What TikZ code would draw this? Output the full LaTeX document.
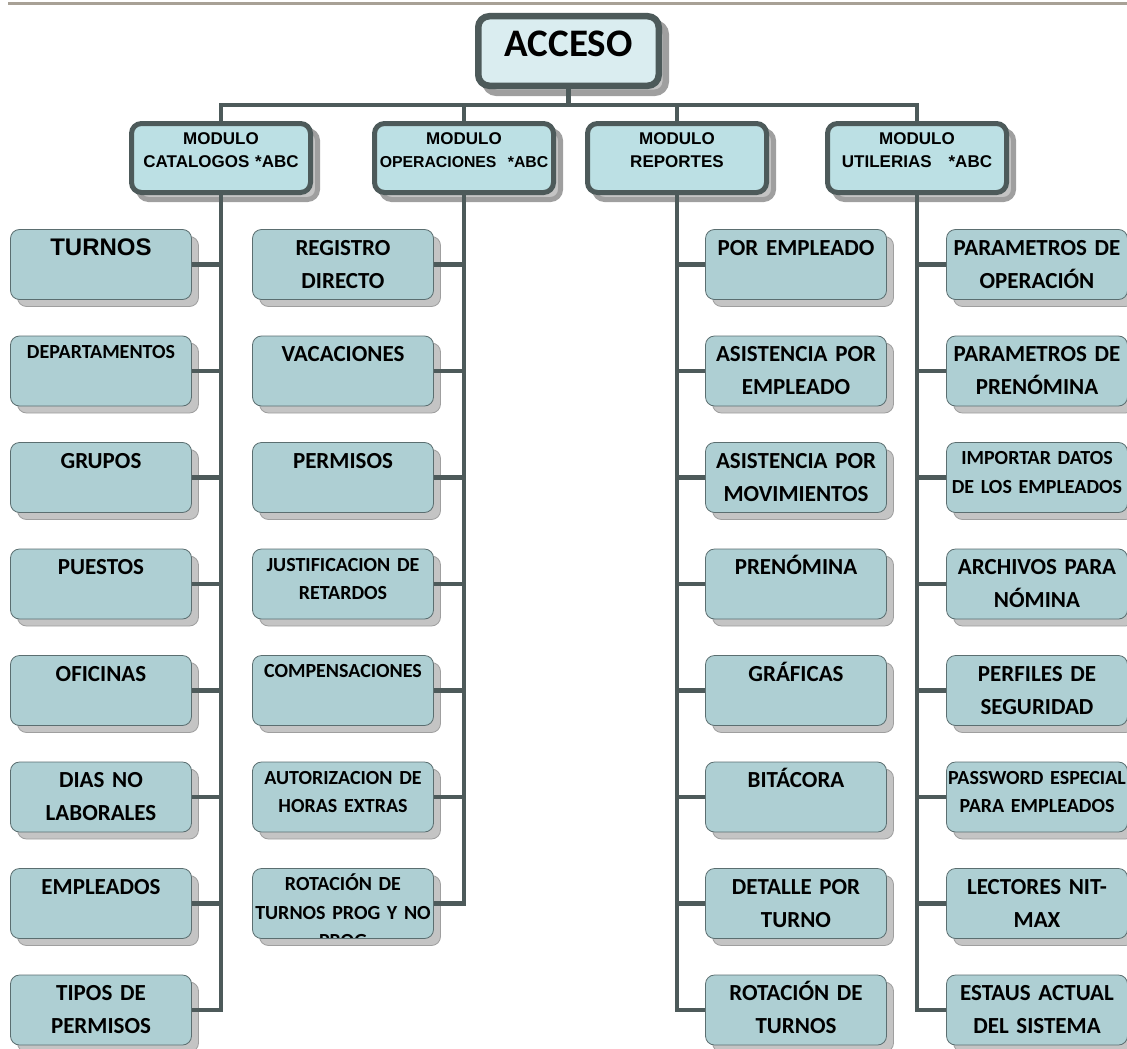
\documentclass[tikz,border=0pt]{standalone}
\usepackage{fontspec}
\usepackage{xcolor}
\usetikzlibrary{shadows}
\newfontfamily\calib{Carlito}[BoldFont={Carlito Bold}]
\newfontfamily\arialf{Liberation Sans}[BoldFont={Liberation Sans Bold}]
\definecolor{accfill}{HTML}{DAEDF0}
\definecolor{modfill}{HTML}{BCE0E4}
\definecolor{leaffill}{HTML}{AECFD3}
\definecolor{darkc}{HTML}{4D5A5A}
\definecolor{leafline}{HTML}{5B6E70}
\definecolor{shadowc}{HTML}{C4C4C4}
\definecolor{rulec}{HTML}{A8A196}

\begin{document}
\begin{tikzpicture}[x=1pt, y=-1pt,
    shad/.style={drop shadow={shadow xshift=7pt, shadow yshift=-7pt,
                 fill=shadowc, draw=gray!75, opacity=1}},
    rootbox/.style={shad, draw=darkc, fill=accfill, line width=6.5pt, rounded corners=11pt,
                 minimum width=180.5pt, minimum height=69.5pt, inner sep=0pt,
                 text height=24.6pt, text depth=13.6pt,
                 font=\calib\bfseries\fontsize{39}{46}\selectfont},
    modbox/.style={shad, draw=darkc, fill=modfill, line width=5pt, rounded corners=10pt,
                 minimum width=179pt, minimum height=69pt, inner sep=0pt},
    leaf/.style={shad, draw=leafline, fill=leaffill, line width=0.8pt, rounded corners=9pt,
                 minimum width=181pt, minimum height=70pt, inner sep=0pt},
    wrd/.style={draw=none, fill=none, anchor=base, inner sep=0pt, text width=240pt,
                 align=center},
    modt/.style={wrd, yshift=-20.5pt, font=\arialf\bfseries\fontsize{17}{23}\selectfont},
    big/.style={wrd, yshift=-25.9pt, font=\calib\bfseries\fontsize{23}{33}\selectfont},
    small/.style={wrd, yshift=-22.4pt, font=\calib\bfseries\fontsize{20}{28.5}\selectfont},
    arialbig/.style={wrd, yshift=-26pt, font=\arialf\bfseries\fontsize{24}{30}\selectfont},
    conn/.style={draw=darkc, line width=4.5pt}]

  \clip (0,0) rectangle (1127,1049);
  \draw[rulec, line width=2.5pt] (8,3.5) -- (1127,3.5);

  % top and modules
  \node[rootbox] (acc) at (568.5,51) {ACCESO};
  \foreach \n/\x/\txt in {mc/221/{MODULO\\CATALOGOS *ABC},
      mo/464/{MODULO\\{\fontsize{15.8}{23}\selectfont OPERACIONES\ \ *ABC}},
      mr/677/{MODULO\\REPORTES}, mu/917/{MODULO\\UTILERIAS\ \ \ *ABC}}
    \node[modbox, path picture={\node[modt] (\n-t) at (path picture bounding box.north) {\txt};}]
      (\n) at (\x,158) {};

  % catalogos
  \foreach \i/\s/\txt in {1/arialbig/TURNOS, 2/small/DEPARTAMENTOS, 3/big/GRUPOS,
      4/big/PUESTOS, 5/big/OFICINAS, 6/big/{DIAS NO\\LABORALES}, 7/big/EMPLEADOS,
      8/big/{TIPOS DE\\PERMISOS}}
    \node[leaf, path picture={\node[\s] (c\i-t) at (path picture bounding box.north) {\txt};}]
      (c\i) at (101,{158+106.5*\i}) {};

  % operaciones
  \foreach \i/\s/\txt in {1/big/{REGISTRO\\DIRECTO}, 2/big/VACACIONES, 3/big/PERMISOS,
      4/small/{JUSTIFICACION DE\\RETARDOS}, 5/small/COMPENSACIONES,
      6/small/{AUTORIZACION DE\\HORAS EXTRAS}, 7/small/{ROTACIÓN DE\\TURNOS PROG Y NO\\PROG}}
    \node[leaf, path picture={\node[\s] (o\i-t) at (path picture bounding box.north) {\txt};}]
      (o\i) at (343,{158+106.5*\i}) {};

  % reportes
  \foreach \i/\s/\txt in {1/big/{POR EMPLEADO}, 2/big/{ASISTENCIA POR\\EMPLEADO},
      3/big/{ASISTENCIA POR\\MOVIMIENTOS}, 4/big/PRENÓMINA, 5/big/GRÁFICAS,
      6/big/BITÁCORA, 7/big/{DETALLE POR\\TURNO}, 8/big/{ROTACIÓN DE\\TURNOS}}
    \node[leaf, path picture={\node[\s] (r\i-t) at (path picture bounding box.north) {\txt};}]
      (r\i) at (796,{158+106.5*\i}) {};

  % utilerias
  \foreach \i/\s/\txt in {1/big/{PARAMETROS DE\\OPERACIÓN}, 2/big/{PARAMETROS DE\\PRENÓMINA},
      3/small/{IMPORTAR DATOS\\DE LOS EMPLEADOS}, 4/big/{ARCHIVOS PARA\\NÓMINA},
      5/big/{PERFILES DE\\SEGURIDAD}, 6/small/{PASSWORD ESPECIAL\\PARA EMPLEADOS},
      7/big/{LECTORES NIT-\\MAX}, 8/big/{ESTAUS ACTUAL\\DEL SISTEMA}}
    \node[leaf, path picture={\node[\s] (u\i-t) at (path picture bounding box.north) {\txt};}]
      (u\i) at (1037,{158+106.5*\i}) {};

  % connectors
  \coordinate (bus) at (568.5,105);
  \draw[conn] (acc.south) -- (bus);
  \draw[conn] (mc.north) |- (bus) -| (mu.north);
  \draw[conn] (mo.north) -- (mo.north |- bus);
  \draw[conn] (mr.north) -- (mr.north |- bus);

  \draw[conn] (mc.south) |- (c8.east);
  \foreach \i in {1,...,7}
    \draw[conn] (c\i.east) -- (c\i.east -| mc.south);
  \draw[conn] (mo.south) |- (o7.east);
  \foreach \i in {1,...,6}
    \draw[conn] (o\i.east) -- (o\i.east -| mo.south);
  \draw[conn] (mr.south) |- (r8.west);
  \foreach \i in {1,...,7}
    \draw[conn] (r\i.west) -- (r\i.west -| mr.south);
  \draw[conn] (mu.south) |- (u8.west);
  \foreach \i in {1,...,7}
    \draw[conn] (u\i.west) -- (u\i.west -| mu.south);
\end{tikzpicture}
\end{document}
